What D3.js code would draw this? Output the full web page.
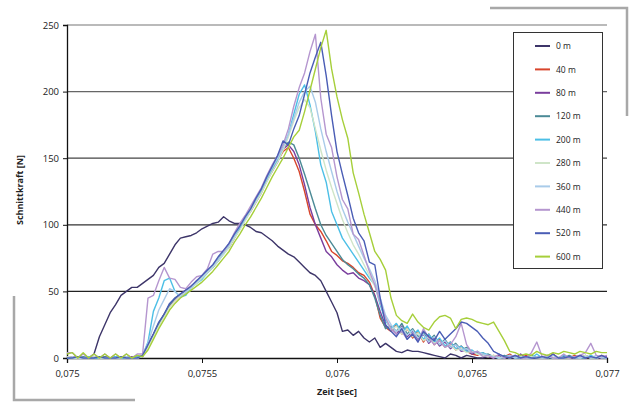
<!DOCTYPE html>
<html><head><meta charset="utf-8">
<script src="https://cdn.jsdelivr.net/npm/d3@7"></script>
<style>
body{margin:0;background:#fff;}
text{font-family:"Open Sans","Noto Sans",sans-serif;}
</style></head>
<body><svg id="c" width="633" height="403"></svg>
<script>
// ---- data ----
const tStart = 0.075, tStep = 0.00002; // sampling grid of the series below
const xTicks = [0.075, 0.0755, 0.076, 0.0765, 0.077];
const xTickLabels = ["0,075", "0,0755", "0,076", "0,0765", "0,077"];
const yTicks = [0, 50, 100, 150, 200, 250];
const seriesNames = ["0 m","40 m","80 m","120 m","200 m","280 m","360 m","440 m","520 m","600 m"];
const seriesColors = ["#3d3569","#d8452c","#7a3e9d","#4b8a96","#4cbfe6","#cfe5c8","#a9cbe9","#b596cf","#4a5db5","#a6cf3a"];

const s0 = [0,0,0,0,0,3,16,25,34,40,47,50,53,53,56,59,62,68,71,78,85,90,91,92,94,97,99,101,102,106,103,101,101,100,98,95,94,91,88,84,81,78,76,72,68,64,62,58,50,42,34,20,21,17,20,15,12,15,8,11,8,5,4,6,5,5,4,3,2,1,0,3,2,0,2,1,0,0,1,0,0,1,0,0,0,1,0,0,0,1,0,0,0,1,0,0,2,0,0,1,0];
const s40 = [0,1,0,0,1,0,0,1,0,0,1,0,0,1,1,9,17,25,33,39,43,47,50,54,57,61,65,69,74,79,84,91,98,104,111,118,125,134,141,148,155,158,150,140,125,108,100,95,88,80,77,73,71,68,64,62,57,47,30,23,20,25,18,22,15,20,12,18,10,14,8,12,6,9,5,3,2,4,1,2,0,1,3,0,0,2,0,1,0,0,3,0,1,0,2,0,0,1,0,2,0];
const s80 = [0,0,1,0,0,1,0,0,0,1,0,0,1,0,2,10,18,26,32,40,44,48,51,53,58,60,64,68,73,79,83,90,97,104,110,117,124,133,140,147,157,160,155,145,130,113,100,90,80,76,70,66,63,64,60,58,55,47,35,24,22,18,24,16,20,14,18,11,15,9,12,7,10,5,6,3,4,2,1,0,2,0,1,0,3,0,0,1,0,2,0,0,1,0,0,2,0,1,0,0,1];
const s120 = [0,0,0,1,0,0,0,1,0,0,0,1,0,0,1,9,17,26,33,40,45,48,50,53,57,61,65,68,74,80,84,92,98,105,111,118,126,134,142,149,158,162,160,150,138,125,112,100,92,86,80,74,70,67,63,60,55,45,32,22,24,20,26,18,22,16,19,13,17,10,14,8,11,6,8,4,5,2,3,1,0,2,0,1,0,0,2,0,1,0,0,1,0,2,0,0,1,0,0,1,0];
const s200 = [0,0,0,0,1,0,0,0,0,1,0,0,0,1,2,12,35,45,58,60,50,46,47,53,56,59,64,68,73,78,84,91,98,104,111,118,126,134,142,149,158,168,183,198,205,190,170,145,132,110,100,90,84,78,72,66,60,55,40,28,22,26,19,24,17,21,14,18,12,15,9,12,7,9,5,6,3,4,2,1,0,1,2,0,0,1,0,3,0,1,0,0,2,0,1,0,0,2,0,1,0];
const s280 = [1,0,0,0,0,1,0,0,0,0,1,0,0,0,1,8,16,24,31,38,43,47,50,53,56,60,64,68,73,78,83,90,96,103,110,117,124,132,140,147,156,166,178,188,194,188,172,156,141,128,116,104,94,85,78,70,62,54,42,30,21,24,18,22,16,19,13,16,11,13,8,10,6,7,4,5,3,2,1,2,0,1,0,2,0,0,1,0,0,2,0,1,0,0,1,0,2,0,0,1,0];
const s360 = [0,1,0,0,0,0,1,0,0,0,0,1,0,0,2,11,24,36,44,52,50,46,49,53,57,61,65,69,74,79,85,92,99,105,112,119,127,135,143,150,158,168,180,192,200,204,192,172,155,140,125,112,102,93,84,75,67,58,45,32,25,20,23,17,21,15,18,12,16,10,13,8,10,6,7,4,5,3,2,1,0,0,2,0,1,0,0,1,0,0,2,0,0,1,0,0,1,0,2,0,0];
const s440 = [4,4,0,3,0,3,0,3,0,3,0,3,0,3,3,45,47,58,68,60,59,53,52,57,61,62,67,78,80,80,86,94,101,107,114,121,128,137,145,152,160,172,189,203,214,230,243,195,168,158,136,119,112,93,89,77,65,55,42,30,22,18,20,14,19,12,22,15,10,13,8,10,16,26,10,4,5,1,2,0,3,0,1,2,0,0,4,12,1,2,0,0,3,0,1,2,4,11,2,1,2];
const s520 = [0,0,1,0,0,0,1,0,0,0,1,0,0,0,2,10,18,27,33,41,45,48,51,54,58,62,66,70,76,81,86,93,99,106,112,120,127,136,144,152,163,160,172,182,198,214,226,237,212,182,155,138,122,105,94,88,72,70,45,25,20,16,22,14,18,12,20,16,13,20,14,18,22,27,26,23,20,15,11,5,3,1,0,2,0,1,0,0,1,0,3,0,0,1,0,2,0,1,0,2,0];
const s600 = [3,4,0,4,0,3,0,3,0,3,0,3,0,2,1,6,14,22,29,36,41,45,48,51,54,57,61,65,70,75,80,87,93,100,106,113,120,128,136,143,150,158,166,171,185,201,217,233,246,217,196,179,165,139,124,108,94,80,74,66,45,32,28,26,33,27,23,21,27,31,32,30,22,29,30,29,27,26,25,27,20,13,5,4,2,3,2,5,3,2,4,3,5,4,3,5,4,3,5,4,4];
const seriesValues = [s0,s40,s80,s120,s200,s280,s360,s440,s520,s600];

// ---- chart ----
const svg = d3.select("#c");
const x = d3.scaleLinear().domain([0.075, 0.077]).range([67, 607]);
const y = d3.scaleLinear().domain([0, 250]).range([358, 25]);

// decorative page rules
svg.append("path").attr("d","M490,8H627V116").attr("fill","none").attr("stroke","#a8a8a8").attr("stroke-width",2.5);
svg.append("path").attr("d","M14,296V400H135").attr("fill","none").attr("stroke","#a8a8a8").attr("stroke-width",2.5);

// gridlines
const gridCol = {50:"#222",100:"#333",150:"#444",200:"#666",250:"#777"};
svg.append("g").selectAll("line").data(yTicks.filter(d=>d>0)).join("line")
  .attr("x1", x(0.075)).attr("x2", x(0.077))
  .attr("y1", d=>y(d)).attr("y2", d=>y(d))
  .attr("stroke", d=>gridCol[d]).attr("stroke-width",1.2);

// axes
const yAxis = svg.append("g").attr("transform",`translate(${x(0.075)},0)`)
  .call(d3.axisLeft(y).tickValues(yTicks).tickSize(4).tickPadding(4).tickFormat(d3.format("d")));
const xAxis = svg.append("g").attr("transform",`translate(0,${y(0)})`)
  .call(d3.axisBottom(x).tickValues(xTicks).tickSize(5).tickPadding(7).tickFormat((d,i)=>xTickLabels[i]));
[yAxis,xAxis].forEach(g=>{
  g.select(".domain").attr("stroke","#111").attr("stroke-width",1.3);
  g.selectAll(".tick line").attr("stroke","#111");
  g.selectAll(".tick text").attr("font-family","Open Sans, sans-serif").attr("font-size",9.5).attr("fill","#222");
});

// lines
const line = d3.line().x((d,i)=>x(tStart + i*tStep)).y(d=>y(d));
svg.append("g").selectAll("path").data(seriesValues).join("path")
  .attr("d", d=>line(d)).attr("fill","none")
  .attr("stroke",(d,i)=>seriesColors[i]).attr("stroke-width",1.4).attr("stroke-linejoin","round");

// axis titles
svg.append("text").attr("x",337).attr("y",395).attr("text-anchor","middle")
  .attr("font-size",9).attr("font-weight","bold").attr("fill","#222").text("Zeit [sec]");
svg.append("text").attr("transform","translate(23,190) rotate(-90)").attr("text-anchor","middle")
  .attr("font-size",9).attr("font-weight","bold").attr("fill","#222").text("Schnittkraft [N]");

// legend
const lg = svg.append("g");
lg.append("rect").attr("x",513.5).attr("y",32.5).attr("width",89).attr("height",236)
  .attr("fill","#fff").attr("stroke","#333").attr("stroke-width",1);
const item = lg.selectAll("g").data(seriesNames).join("g")
  .attr("transform",(d,i)=>`translate(0,${46 + i*23.4})`);
item.append("line").attr("x1",535).attr("x2",550).attr("stroke",(d,i)=>seriesColors[i]).attr("stroke-width",2);
item.append("text").attr("x",556).attr("y",3.2).attr("font-size",8.5).attr("fill","#222").text(d=>d);
</script></body></html>
